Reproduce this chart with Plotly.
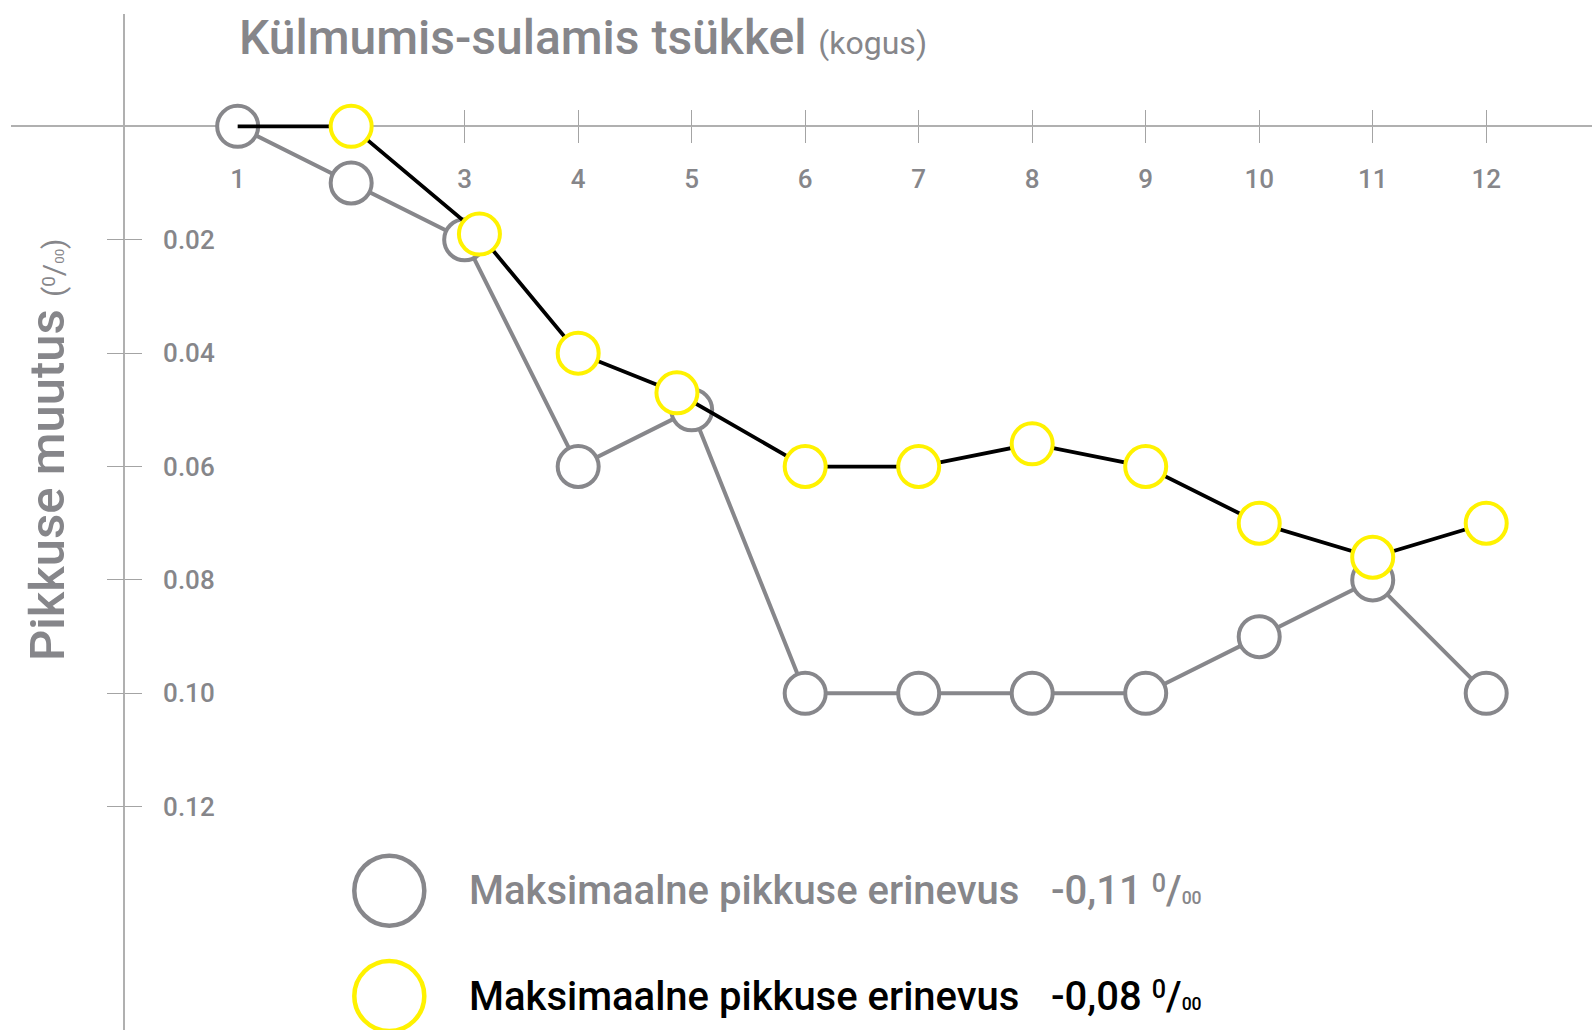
import plotly.graph_objects as go

# ---- data ----
cycles = [1, 2, 3, 4, 5, 6, 7, 8, 9, 10, 11, 12]
gray_vals = [0.0, 0.010, 0.020, 0.060, 0.050, 0.100, 0.100, 0.100, 0.100, 0.090, 0.080, 0.100]
black_x = [1, 2, 3.13, 4, 4.87, 6, 7, 8, 9, 10, 11, 12]
black_vals = [0.0, 0.0, 0.019, 0.040, 0.047, 0.060, 0.060, 0.056, 0.060, 0.070, 0.076, 0.070]
x_tick_vals = [1, 2, 3, 4, 5, 6, 7, 8, 9, 10, 11, 12]
x_tick_upper = [3, 4, 5, 6, 7, 8, 9, 10, 11, 12]
y_tick_vals = [0.02, 0.04, 0.06, 0.08, 0.10, 0.12]
y_tick_text = ["0.02", "0.04", "0.06", "0.08", "0.10", "0.12"]

title_main = "Külmumis-sulamis tsükkel"
title_unit = "(kogus)"
ytitle_main = "Pikkuse muutus"
legend_label = "Maksimaalne pikkuse erinevus"
legend_gray_val = "-0,11"
legend_black_val = "-0,08"

# ---- style ----
W, H = 1592, 1030
ML, MR, MT, MB = 11, 0, 14, 0
GRAY = "#87878b"
TEXT_GRAY = "#86868a"
AXIS = "#b0b0b0"
TICK = "#a4a4a4"
YELLOW = "#fff200"
FONT = "Roboto"

x_range = [-0.997, 12.932]
y_range = [0.15937, -0.01981]  # reversed

pw, ph = W - ML - MR, H - MT - MB
x_pos = (0 - x_range[0]) / (x_range[1] - x_range[0])          # y-axis at x=0
y_pos = (0 - y_range[0]) / (y_range[1] - y_range[0])          # x-axis at y=0


def px_x(p):
    return (p - ML) / pw


def px_y(p):
    return (H - MB - p) / ph


def permille(size):
    """0/00 written with a raised small 0 and small 00 on the baseline."""
    return (f"<span style='font-size:{0.63 * size:.1f}px;baseline-shift:{0.29 * size:.1f}px'>0</span>"
            f"/<span style='font-size:{0.44 * size:.1f}px'>00</span>")


fig = go.Figure()

fig.add_trace(go.Scatter(
    x=cycles, y=gray_vals, mode="lines+markers",
    line=dict(color=GRAY, width=4),
    marker=dict(size=41, color="white", line=dict(color=GRAY, width=4)),
    hoverinfo="skip", showlegend=False, cliponaxis=False,
))
fig.add_trace(go.Scatter(
    x=black_x, y=black_vals, mode="lines",
    line=dict(color="black", width=3.8),
    hoverinfo="skip", showlegend=False, cliponaxis=False,
))
fig.add_trace(go.Scatter(
    x=black_x[1:], y=black_vals[1:], mode="markers",
    marker=dict(size=41, color="white", line=dict(color=YELLOW, width=4)),
    xaxis="x2", yaxis="y2",
    hoverinfo="skip", showlegend=False, cliponaxis=False,
))

tickfont = dict(family=FONT, size=26, color=TEXT_GRAY, weight=500)

fig.update_layout(
    width=W, height=H,
    margin=dict(l=ML, r=MR, t=MT, b=MB, pad=0),
    paper_bgcolor="white", plot_bgcolor="white",
    showlegend=False,
    xaxis=dict(
        range=x_range, anchor="free", position=y_pos, side="bottom",
        showline=True, linecolor=AXIS, linewidth=1.5,
        ticks="outside", ticklen=16, tickwidth=1.2, tickcolor=TICK,
        tickvals=x_tick_vals, tickfont=tickfont, ticklabelstandoff=14,
        showgrid=False, zeroline=False, layer="below traces", fixedrange=True,
    ),
    xaxis2=dict(
        range=x_range, overlaying="x", anchor="free", position=y_pos, side="bottom",
        showline=False, ticks="inside", ticklen=16, tickwidth=1.2, tickcolor=TICK,
        tickvals=x_tick_upper, showticklabels=False,
        showgrid=False, zeroline=False, layer="below traces", fixedrange=True,
    ),
    yaxis=dict(
        range=y_range, anchor="free", position=x_pos, side="right",
        showline=True, linecolor=AXIS, linewidth=1.5,
        ticks="outside", ticklen=17, tickwidth=1.2, tickcolor=TICK,
        tickvals=y_tick_vals, ticktext=y_tick_text, tickfont=tickfont,
        ticklabelstandoff=16,
        showgrid=False, zeroline=False, layer="below traces", fixedrange=True,
    ),
    yaxis2=dict(
        range=y_range, overlaying="y", anchor="free", position=x_pos, side="right",
        showline=False, ticks="inside", ticklen=17, tickwidth=1.2, tickcolor=TICK,
        tickvals=y_tick_vals, showticklabels=False,
        showgrid=False, zeroline=False, layer="below traces", fixedrange=True,
    ),
)

annotations = []
# chart title
annotations.append(dict(
    xref="paper", yref="paper", x=px_x(237), y=px_y(38), xanchor="left", yanchor="middle",
    text=f"{title_main} <span style='font-size:32px;font-weight:400'>{title_unit}</span>",
    showarrow=False, font=dict(family=FONT, size=48, color=TEXT_GRAY, weight=500),
))
# y title
annotations.append(dict(
    xref="paper", yref="paper", x=px_x(47), y=px_y(450), xanchor="center", yanchor="middle",
    textangle=-90,
    text=(f"{ytitle_main} <span style='font-size:30px;font-weight:400'>("
          f"{permille(30)})</span>"),
    showarrow=False, font=dict(family=FONT, size=49, color=TEXT_GRAY, weight=500),
))
# legend rows
for cy, col, val in [(890.7, TEXT_GRAY, legend_gray_val), (996, "black", legend_black_val)]:
    annotations.append(dict(
        xref="paper", yref="paper", x=px_x(467), y=px_y(cy), xanchor="left", yanchor="middle",
        text=legend_label, showarrow=False,
        font=dict(family=FONT, size=40, color=col, weight=500),
    ))
    annotations.append(dict(
        xref="paper", yref="paper", x=px_x(1049), y=px_y(cy), xanchor="left", yanchor="middle",
        text=f"{val} {permille(40)}", showarrow=False,
        font=dict(family=FONT, size=40, color=col, weight=500),
    ))
fig.update_layout(annotations=annotations)

shapes = []
for cy, col in [(890.7, GRAY), (996, YELLOW)]:
    shapes.append(dict(
        type="circle", xref="paper", yref="paper",
        xsizemode="pixel", ysizemode="pixel",
        xanchor=px_x(389.3), yanchor=px_y(cy),
        x0=-35, x1=35, y0=-35, y1=35,
        line=dict(color=col, width=4.5), fillcolor="white",
    ))
fig.update_layout(shapes=shapes)

fig.write_html(
    "out.html",
    config={"displayModeBar": False},
    post_script="document.body.style.margin='0';document.body.style.overflow='hidden';",
)
